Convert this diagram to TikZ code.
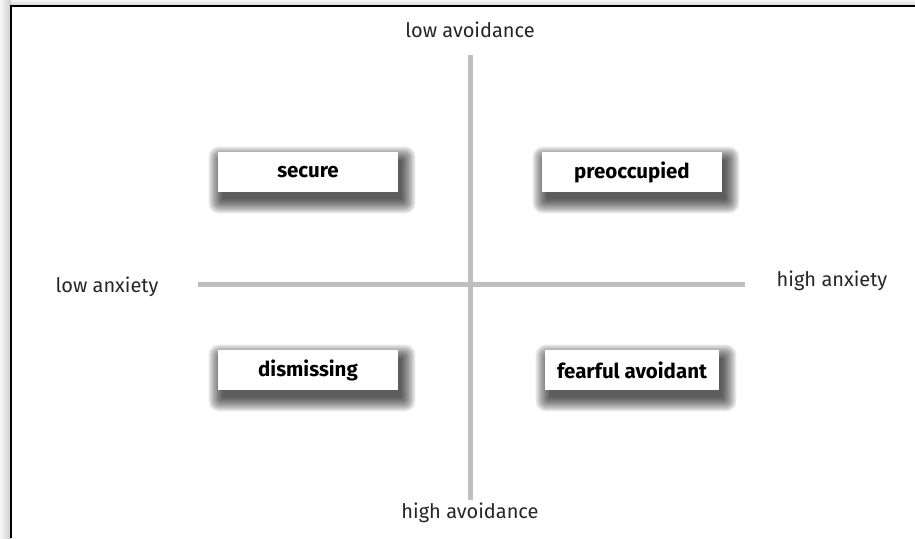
\documentclass[tikz,border=0pt]{standalone}
\usepackage{fontspec}
\setmainfont{Fira Sans}
\usetikzlibrary{backgrounds}
\begin{document}
\begin{tikzpicture}[x=1pt,y=-1pt,
  axis/.style={line width=5pt,color=black!25},
  axislabel/.style={font=\fontsize{20}{24}\selectfont,text=black!85,inner sep=0pt},
  stylebox/.style={fill=white,minimum width=180pt,minimum height=40pt,inner sep=0pt,
    font=\fontsize{20.5}{24}\selectfont\bfseries},
  shadowlayer/.style={fill=black,opacity=0.05}]
  \useasboundingbox (0,0) rectangle (915,538);
  % axes
  \coordinate (vt) at (470,55);
  \coordinate (vb) at (470,500);
  \coordinate (hl) at (198,284);
  \coordinate (hr) at (745,284);
  \draw[axis] (vt) -- (vb);
  \draw[axis] (hl) -- (hr);
  % axis labels
  \node[axislabel] (lav) at (470,30) {low avoidance};
  \node[axislabel] (hav) at (470,513) {high avoidance};
  \node[axislabel] (lan) at (107,287) {low anxiety};
  \node[axislabel] (han) at (832,281) {high anxiety};
  % attachment styles
  \node[stylebox] (sec) at (308,172) {secure};
  \node[stylebox] (pre) at (632,172) {preoccupied};
  \node[stylebox] (dis) at (308,370) {dismissing};
  \node[stylebox,minimum width=174pt] (fea) at (632,370) {fearful avoidant};
  \begin{scope}[on background layer]
    % soft edge round the sheet
    \shade[left color=black!3,right color=black!20] (0,0) rectangle (11,538);
    \shade[top color=black!3,bottom color=black!20] (11,0) rectangle (915,6);
    \fill[white] (11,6) rectangle (915,538);
    \draw[line width=1.6pt,black] (11,538) -- (11,6) -- (915,6);
    % soft shadows under the boxes, built from stacked translucent layers
    \foreach \n in {sec,pre,dis,fea}{
      \foreach \k in {0,...,17}{
        \pgfmathsetmacro{\e}{\k*0.85-1}
        \fill[shadowlayer,rounded corners=\k*0.6pt]
          ([shift={(4-\e,8+\e)}]\n.south west) rectangle
          ([shift={(4+\e,8-\e)}]\n.north east);
      }
    }
  \end{scope}
\end{tikzpicture}
\end{document}
